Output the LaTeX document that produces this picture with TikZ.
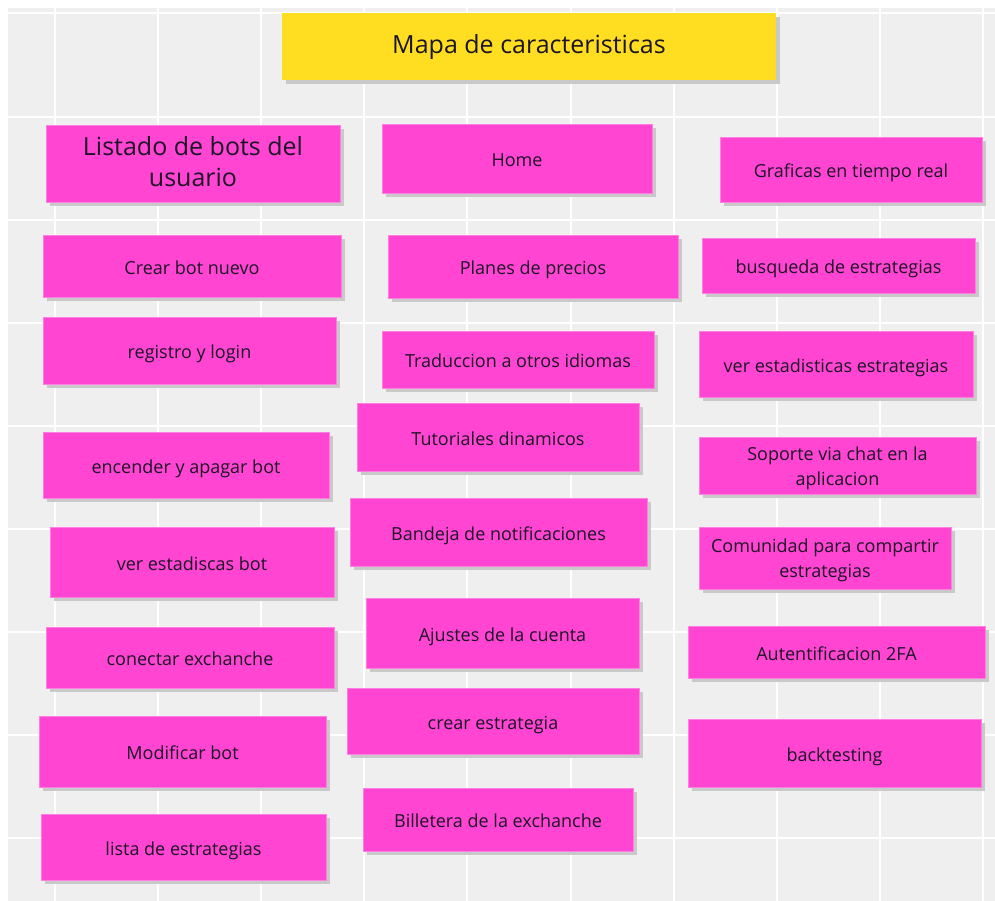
\documentclass[tikz,border=0pt]{standalone}
\usepackage{fontspec}
\setmainfont{Open Sans}
\usetikzlibrary{shadows}
\definecolor{bgpanel}{HTML}{EFEFEF}
\definecolor{pinknote}{HTML}{FF45D1}
\definecolor{pinkedge}{HTML}{FF7FE0}
\definecolor{yellownote}{HTML}{FFDE21}
\definecolor{notetext}{HTML}{1C1428}
\definecolor{notesh}{HTML}{C9C9C9}
\begin{document}
\begin{tikzpicture}[x=1pt,y=-1pt,
  notebase/.style={rectangle, inner sep=0pt, align=center, text=notetext,
    general shadow={fill=notesh, shadow xshift=4pt, shadow yshift=-4pt}},
  note/.style={notebase, fill=pinknote, draw=pinkedge, line width=0.6pt,
    font=\fontsize{18}{25}\selectfont, text height=17pt, text depth=1pt},
  twonote/.style={note, text height=40pt, text depth=1pt},
  bignote/.style={note, font=\fontsize{25}{31}\selectfont, text height=49pt, text depth=2pt},
  titlenote/.style={notebase, fill=yellownote, font=\fontsize{25}{30}\selectfont,
    text height=18pt, text depth=4pt},
  wh/.style 2 args={minimum width=#1pt, minimum height=#2pt},
  gridline/.style={white, line width=2pt}]
\useasboundingbox (0,0) rectangle (995,901);
\fill[white] (0,0) rectangle (995,901);
\fill[bgpanel] (8,8) rectangle (995,901);
\foreach \k in {0,...,9} \draw[gridline] ({55+103.1*\k},8) -- ({55+103.1*\k},901);
\foreach \k in {0,...,8} \draw[gridline] (8,{13.5+103.1*\k}) -- (995,{13.5+103.1*\k});

% title
\node[titlenote, wh={494}{67}] (title) at (529,46.5) {Mapa de caracteristicas};

% column 1
\node[bignote, wh={294}{77}] (listado) at (193,163.5) {Listado de bots del\\usuario};
\node[note, wh={298}{62}] (crear) at (192,266) {Crear bot nuevo};
\node[note, wh={293}{67}] (registro) at (189.5,350.5) {registro y login};
\node[note, wh={286}{66}] (encender) at (186,465) {encender y apagar bot};
\node[note, wh={284}{70}] (verbot) at (192,562) {ver estadiscas bot};
\node[note, wh={288}{61}] (conectar) at (190,657.5) {conectar exchanche};
\node[note, wh={287}{71}] (modificar) at (182.5,751.5) {Modificar bot};
\node[note, wh={285}{66}] (lista) at (183.5,847) {lista de estrategias};

% column 2
\node[note, wh={270}{69}] (home) at (517,158.5) {Home};
\node[note, wh={290}{63}] (planes) at (533,266.5) {Planes de precios};
\node[note, wh={272}{57}] (traduccion) at (518,359.5) {Traduccion a otros idiomas};
\node[note, wh={282}{68}] (tutoriales) at (498,437) {Tutoriales dinamicos};
\node[note, wh={297}{68}] (bandeja) at (498.5,532) {Bandeja de notificaciones};
\node[note, wh={273}{70}] (ajustes) at (502.5,633) {Ajustes de la cuenta};
\node[note, wh={292}{66}] (crearest) at (493,721) {crear estrategia};
\node[note, wh={270}{63}] (billetera) at (498,819.5) {Billetera de la exchanche};

% column 3
\node[note, wh={262}{65}] (graficas) at (851,169.5) {Graficas en tiempo real};
\node[note, wh={273}{55}] (busqueda) at (838.5,265.5) {busqueda de estrategias};
\node[note, wh={274}{66}] (verest) at (836,364) {ver estadisticas estrategias};
\node[twonote, wh={277}{57}] (soporte) at (837.5,465.5) {Soporte via chat en la\\aplicacion};
\node[twonote, wh={252}{62}] (comunidad) at (825,558) {Comunidad para compartir\\estrategias};
\node[note, wh={297}{52}] (autent) at (836.5,652) {Autentificacion 2FA};
\node[note, wh={293}{68}] (backtesting) at (834.5,753) {backtesting};
\end{tikzpicture}
\end{document}
